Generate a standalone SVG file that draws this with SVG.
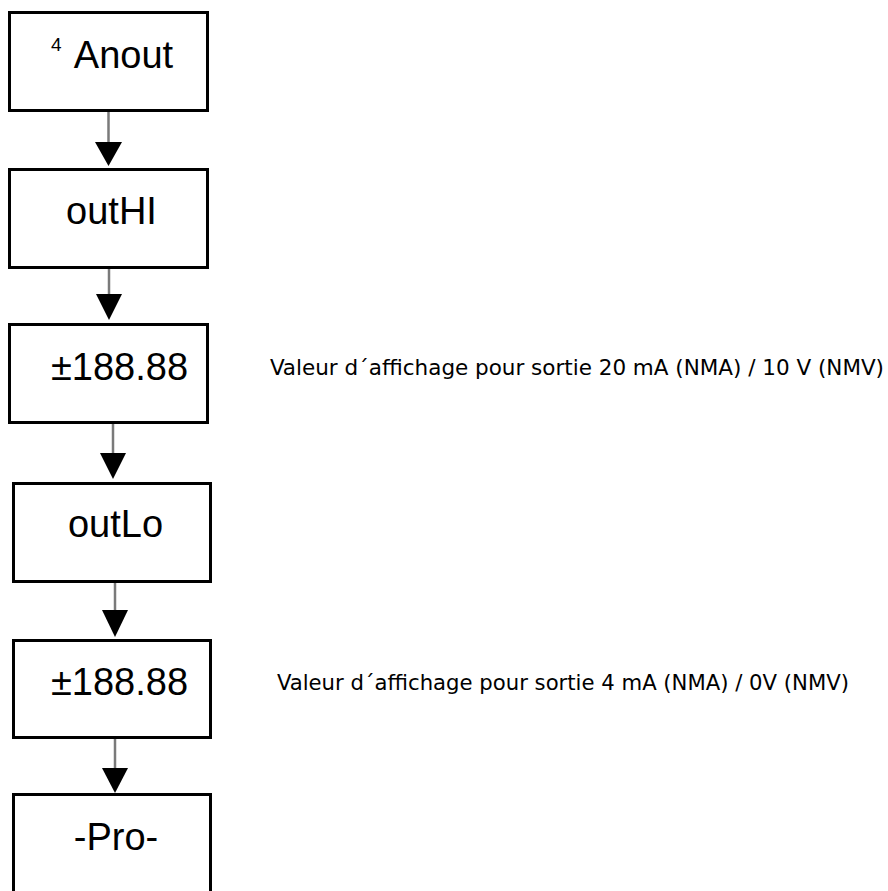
<svg xmlns="http://www.w3.org/2000/svg" width="888" height="891" viewBox="0 0 888 891">
<defs>
<style>
.box{fill:#fff;stroke:#000;stroke-width:3}
.lbl{font-family:"Liberation Sans",Arial,sans-serif;font-size:38px;fill:#000;text-anchor:middle}
.sup{font-family:"Liberation Sans",Arial,sans-serif;font-size:19px;fill:#000}
.desc{font-family:"DejaVu Sans Condensed","DejaVu Sans","Noto Sans",sans-serif;font-size:22px;fill:#000}
.ln{stroke:#7a7a7a;stroke-width:2.5;fill:none}
.hd{fill:#000}
</style>
</defs>
<rect width="888" height="891" fill="#fff"/>
<g id="connectors">
<line class="ln" x1="108.5" y1="111" x2="108.5" y2="145"/>
<polygon class="hd" points="95,142 122,142 108.5,166"/>
<line class="ln" x1="109" y1="268" x2="109" y2="296"/>
<polygon class="hd" points="96,294 122,294 109,320"/>
<line class="ln" x1="113" y1="423" x2="113" y2="456"/>
<polygon class="hd" points="100,453 126,453 113,479"/>
<line class="ln" x1="115" y1="582" x2="115" y2="612"/>
<polygon class="hd" points="102,610 128,610 115,637"/>
<line class="ln" x1="115" y1="738" x2="115" y2="770"/>
<polygon class="hd" points="102,768 128,768 115,793"/>
</g>
<g id="n1">
<rect class="box" x="9.5" y="12.5" width="198" height="98"/>
<text class="sup" x="51" y="51">4</text>
<text class="lbl" x="123.5" y="68">Anout</text>
</g>
<g id="n2">
<rect class="box" x="9.5" y="169.5" width="198" height="98"/>
<text class="lbl" x="111.5" y="224">outHI</text>
</g>
<g id="n3">
<rect class="box" x="9.5" y="324.5" width="198" height="98"/>
<text class="lbl" x="119.5" y="380">±188.88</text>
</g>
<g id="n4">
<rect class="box" x="13.5" y="483.5" width="197" height="98"/>
<text class="lbl" x="115.5" y="537">outLo</text>
</g>
<g id="n5">
<rect class="box" x="13.5" y="640.5" width="197" height="97"/>
<text class="lbl" x="119.5" y="695">±188.88</text>
</g>
<g id="n6">
<rect class="box" x="13.5" y="794.5" width="197" height="110"/>
<text class="lbl" x="116" y="850">-Pro-</text>
</g>
<g id="descriptions">
<text class="desc" x="270" y="375" textLength="614" lengthAdjust="spacingAndGlyphs">Valeur d´affichage pour sortie 20 mA (NMA) / 10 V (NMV)</text>
<text class="desc" x="277" y="690" textLength="572" lengthAdjust="spacingAndGlyphs">Valeur d´affichage pour sortie 4 mA (NMA) / 0V (NMV)</text>
</g>
</svg>
